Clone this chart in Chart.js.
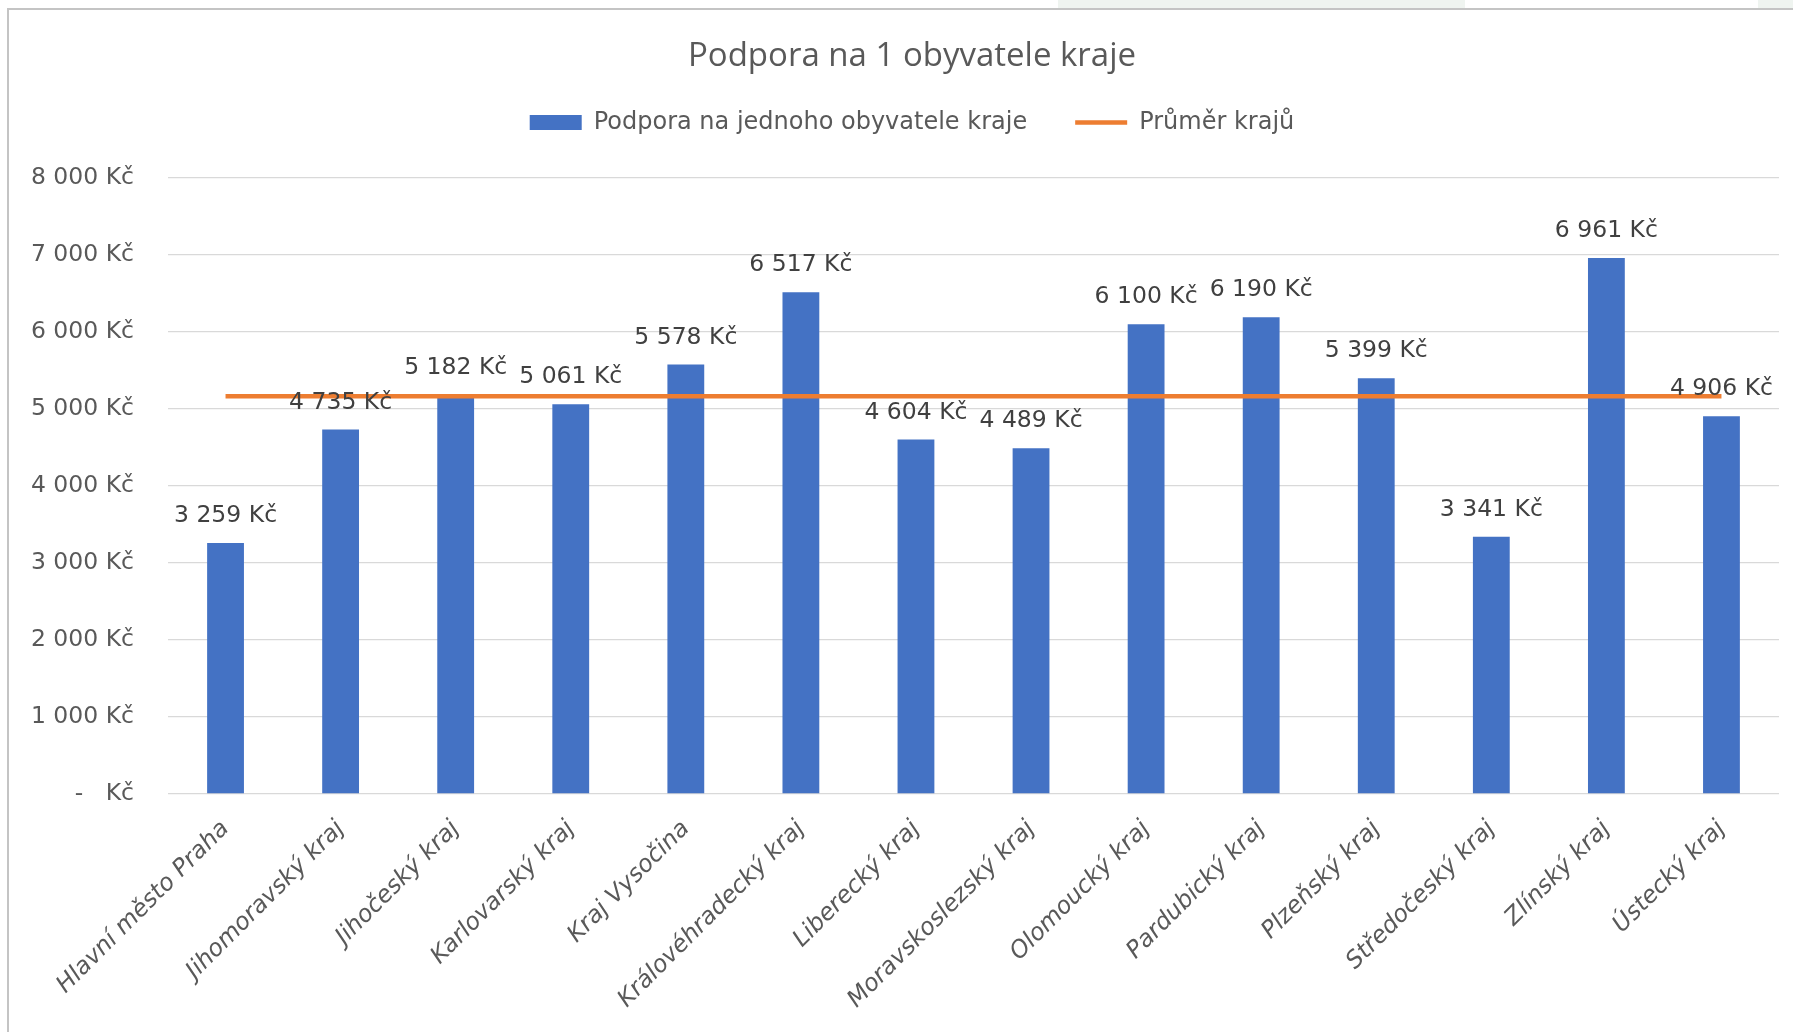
<!DOCTYPE html>
<html>
<head>
<meta charset="utf-8">
<script src="https://cdn.jsdelivr.net/npm/chart.js@4/dist/chart.umd.min.js"></script>
<style>
  html, body { margin: 0; padding: 0; background: #ffffff; overflow: hidden; width: 1793px; height: 1032px; }
  .strip { position: absolute; top: 0; height: 8px; background: #eff4f0; }
  .frame { position: absolute; left: 7px; top: 8px; width: 1900px; height: 1100px;
           border-left: 2px solid #c4c4c4; border-top: 2px solid #c4c4c4; }
  #wrap { position: absolute; left: 9px; top: 10px; width: 1806px; height: 1100px; }
</style>
</head>
<body>
<div class="strip" style="left:1058px;width:407px;"></div>
<div class="strip" style="left:1758px;width:35px;"></div>
<div class="frame"></div>
<div id="wrap"><canvas id="c" width="1806" height="1100"></canvas></div>
<script>
// ---- data ----
const chartTitle = 'Podpora na 1 obyvatele kraje';
const seriesNames = ['Podpora na jednoho obyvatele kraje', 'Průměr krajů'];
const categories = ['Hlavní město Praha', 'Jihomoravský kraj', 'Jihočeský kraj', 'Karlovarský kraj',
  'Kraj Vysočina', 'Královéhradecký kraj', 'Liberecký kraj', 'Moravskoslezský kraj',
  'Olomoucký kraj', 'Pardubický kraj', 'Plzeňský kraj', 'Středočeský kraj', 'Zlínský kraj', 'Ústecký kraj'];
const supportValues = [3259, 4735, 5182, 5061, 5578, 6517, 4604, 4489, 6100, 6190, 5399, 3341, 6961, 4906];
const averageValues = [5166, 5166, 5166, 5166, 5166, 5166, 5166, 5166, 5166, 5166, 5166, 5166, 5166, 5166];
const yTicks = [0, 1000, 2000, 3000, 4000, 5000, 6000, 7000, 8000];

function fmtKc(v) {
  if (v === 0) return '-   Kč';
  return Math.round(v).toString().replace(/\B(?=(\d{3})+(?!\d))/g, ' ') + ' Kč';
}

const smallFont = 'DejaVu Sans';

const dataLabels = {
  id: 'dataLabels',
  afterDatasetsDraw(chart) {
    const meta = chart.getDatasetMeta(0);
    const ctx = chart.ctx;
    ctx.save();
    ctx.font = '23.5px "' + smallFont + '"';
    ctx.fillStyle = '#404040';
    ctx.textAlign = 'center';
    ctx.textBaseline = 'middle';
    meta.data.forEach((bar, i) => {
      ctx.fillText(fmtKc(supportValues[i]), bar.x, bar.y - 27);
    });
    ctx.restore();
  }
};

const legendSpacer = {
  id: 'legendSpacer',
  beforeLayout(chart) {
    const lg = chart.legend;
    if (lg && !lg._patched) {
      const orig = lg.fit.bind(lg);
      lg.fit = function () { orig(); this.height += 33.5; };
      lg._patched = true;
    }
  }
};

function build() {
  new Chart(document.getElementById('c'), {
    data: {
      labels: categories,
      datasets: [
        {
          type: 'bar',
          label: seriesNames[0],
          data: supportValues,
          backgroundColor: '#4472C4',
          borderWidth: 0,
          barPercentage: 0.32,
          categoryPercentage: 1.0,
          order: 1
        },
        {
          type: 'line',
          label: seriesNames[1],
          data: averageValues,
          borderColor: '#ED7D31',
          backgroundColor: '#ED7D31',
          borderWidth: 4.5,
          pointRadius: 0,
          pointHoverRadius: 0,
          tension: 0,
          order: 0
        }
      ]
    },
    options: {
      responsive: false,
      devicePixelRatio: 1,
      animation: false,
      layout: { padding: { top: 0, right: 0, bottom: 0, left: 0 } },
      plugins: {
        title: {
          display: true,
          text: chartTitle,
          color: '#595959',
          font: { family: 'Open Sans', size: 33, weight: 'normal', lineHeight: 1.2 },
          padding: { top: 26.5, bottom: -13.6 }
        },
        legend: {
          display: true,
          position: 'top',
          labels: {
            usePointStyle: true,
            pointStyleWidth: 52,
            boxHeight: 15,
            padding: 48,
            color: '#595959',
            font: { family: smallFont, size: 24 },
            generateLabels: () => [
              { text: seriesNames[0], fillStyle: '#4472C4', strokeStyle: '#4472C4', lineWidth: 0,
                pointStyle: 'rect', datasetIndex: 0, fontColor: '#595959', hidden: false },
              { text: seriesNames[1], fillStyle: '#ED7D31', strokeStyle: '#ED7D31', lineWidth: 4.5,
                pointStyle: 'line', datasetIndex: 1, fontColor: '#595959', hidden: false }
            ]
          }
        },
        tooltip: { enabled: false }
      },
      scales: {
        x: {
          grid: { display: false, drawTicks: false },
          border: { display: false },
          ticks: {
            minRotation: 45, maxRotation: 45, autoSkip: false,
            color: '#595959', padding: 21,
            font: { family: smallFont, size: 23.8, style: 'italic' }
          },
          afterFit: (s) => { s.height = 316; }
        },
        y: {
          min: 0, max: 8000,
          grid: { color: '#d9d9d9', lineWidth: 1.3, drawTicks: false },
          border: { display: false },
          afterBuildTicks: (s) => { s.ticks = yTicks.map(v => ({ value: v })); },
          ticks: {
            color: '#595959', padding: 34,
            font: { family: smallFont, size: 23.5 },
            callback: (v) => fmtKc(v)
          },
          afterFit: (s) => { s.width = 159; }
        },
        yRight: {
          position: 'right',
          display: true,
          min: 0, max: 8000,
          grid: { display: false, drawTicks: false },
          border: { display: false },
          ticks: { display: false },
          afterFit: (s) => { s.width = 36; }
        }
      }
    },
    plugins: [dataLabels, legendSpacer]
  });
}

const fontLoads = [
  document.fonts.load('22px "DejaVu Sans"'),
  document.fonts.load('italic 22px "DejaVu Sans"'),
  document.fonts.load('32px "Open Sans"')
];
Promise.all(fontLoads).then(build, build);
</script>
</body>
</html>
